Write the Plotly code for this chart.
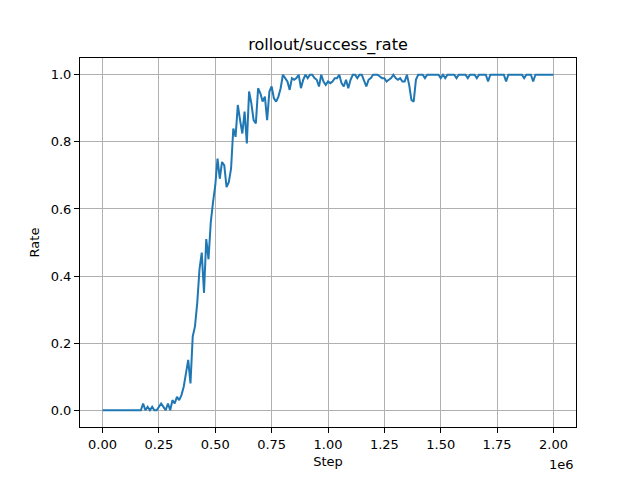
#!/usr/bin/env python3
# -*- coding: utf-8 -*-

import plotly.graph_objects as go

# logged every 10k env steps
STEP_INTERVAL = 10000
success_rate = [
    # 0.00e6 - 0.09e6
    0.0, 0.0, 0.0, 0.0, 0.0, 0.0, 0.0, 0.0, 0.0, 0.0,
    # 0.10e6
    0.0, 0.0, 0.0, 0.0, 0.0, 0.0, 0.0, 0.0, 0.02, 0.0,
    # 0.20e6
    0.01, 0.0, 0.01, 0.0, 0.0, 0.01, 0.02, 0.01, 0.0, 0.02,
    # 0.30e6
    0.0, 0.03, 0.02, 0.04, 0.03, 0.045, 0.07, 0.11, 0.15, 0.08,
    # 0.40e6
    0.22, 0.25, 0.32, 0.42, 0.47, 0.35, 0.51, 0.45, 0.56, 0.62,
    # 0.50e6
    0.67, 0.75, 0.69, 0.74, 0.73, 0.665, 0.68, 0.72, 0.84, 0.815,
    # 0.60e6
    0.91, 0.865, 0.825, 0.89, 0.795, 0.95, 0.915, 0.865, 0.855, 0.96,
    # 0.70e6
    0.945, 0.92, 0.935, 0.865, 0.95, 0.965, 0.93, 0.92, 0.935, 0.96,
    # 0.80e6
    1.0, 0.99, 0.98, 0.955, 0.99, 0.985, 0.99, 1.0, 0.96, 0.985,
    # 0.90e6
    1.0, 0.99, 1.0, 1.0, 0.99, 0.985, 0.965, 1.0, 0.98, 0.97,
    # 1.00e6
    0.98, 0.975, 0.98, 0.99, 0.99, 1.0, 0.975, 0.965, 0.985, 0.96,
    # 1.10e6
    0.985, 1.0, 1.0, 0.99, 1.0, 1.0, 0.98, 0.965, 0.985, 0.99,
    # 1.20e6
    1.0, 1.0, 1.0, 0.995, 0.99, 0.99, 0.98, 0.985, 0.99, 1.0,
    # 1.30e6
    0.99, 0.985, 0.99, 0.98, 0.98, 1.0, 0.97, 0.925, 0.92, 0.985,
    # 1.40e6
    1.0, 1.0, 1.0, 0.99, 1.0, 1.0, 1.0, 1.0, 1.0, 1.0,
    # 1.50e6
    0.99, 1.0, 0.99, 1.0, 1.0, 1.0, 1.0, 0.99, 1.0, 1.0,
    # 1.60e6
    1.0, 1.0, 0.99, 1.0, 1.0, 1.0, 0.99, 1.0, 1.0, 1.0,
    # 1.70e6
    1.0, 0.98, 1.0, 1.0, 1.0, 1.0, 1.0, 1.0, 1.0, 0.98,
    # 1.80e6
    1.0, 1.0, 1.0, 1.0, 1.0, 1.0, 1.0, 0.99, 1.0, 1.0,
    # 1.90e6 - 2.00e6
    1.0, 0.98, 1.0, 1.0, 1.0, 1.0, 1.0, 1.0, 1.0, 1.0,
    1.0,
]
steps = [i * STEP_INTERVAL for i in range(len(success_rate))]

x_tick_vals = [0, 250000, 500000, 750000, 1000000, 1250000, 1500000, 1750000, 2000000]
x_tick_text = ["0.00", "0.25", "0.50", "0.75", "1.00", "1.25", "1.50", "1.75", "2.00"]
y_tick_vals = [0.0, 0.2, 0.4, 0.6, 0.8, 1.0]

FONT = "DejaVu Sans"
# page body has an 8px margin, so the figure is drawn 8px smaller
FIG_W, FIG_H = 632, 472

fig = go.Figure()
fig.add_trace(
    go.Scatter(
        x=steps,
        y=success_rate,
        mode="lines",
        line={"color": "#1f77b4", "width": 2},
        showlegend=False
    )
)

axis_style = dict(
    showline=True,
    linecolor="black",
    linewidth=1,
    mirror=True,
    ticks="outside",
    ticklen=5,
    tickwidth=1,
    tickcolor="black",
    showgrid=True,
    gridcolor="#b0b0b0",
    gridwidth=1,
    zeroline=False,
    automargin=False,
    tickfont={"family": FONT, "size": 13, "color": "black"},
)

fig.update_xaxes(
    **axis_style,
    range=[-100000, 2100000],
    tickvals=x_tick_vals,
    ticktext=x_tick_text,
    title={"text": "Step", "font": {"family": FONT, "size": 13, "color": "black"},
           "standoff": 6},
)
fig.update_yaxes(
    **axis_style,
    range=[-0.05, 1.05],
    tickvals=y_tick_vals,
    tickformat=".1f",
    title={"text": "Rate", "font": {"family": FONT, "size": 13, "color": "black"},
           "standoff": 8},
)

fig.update_layout(
    width=FIG_W,
    height=FIG_H,
    margin={"l": 72, "r": 64, "t": 50, "b": 53},
    paper_bgcolor="white",
    plot_bgcolor="white",
    title={
        "text": "rollout/success_rate",
        "font": {"family": FONT, "size": 16, "color": "black"},
        "x": 72 / FIG_W + (FIG_W - 72 - 64) / 2 / FIG_W, "xanchor": "center",
        "y": 1 - 36 / FIG_H, "yanchor": "middle",
    },
    annotations=[
        dict(
            text="1e6", xref="paper", yref="paper",
            x=1.0, y=-0.075, xanchor="right", yanchor="top",
            showarrow=False,
            font={"family": FONT, "size": 13, "color": "black"},
        )
    ],
)

fig.write_html("out.html")
